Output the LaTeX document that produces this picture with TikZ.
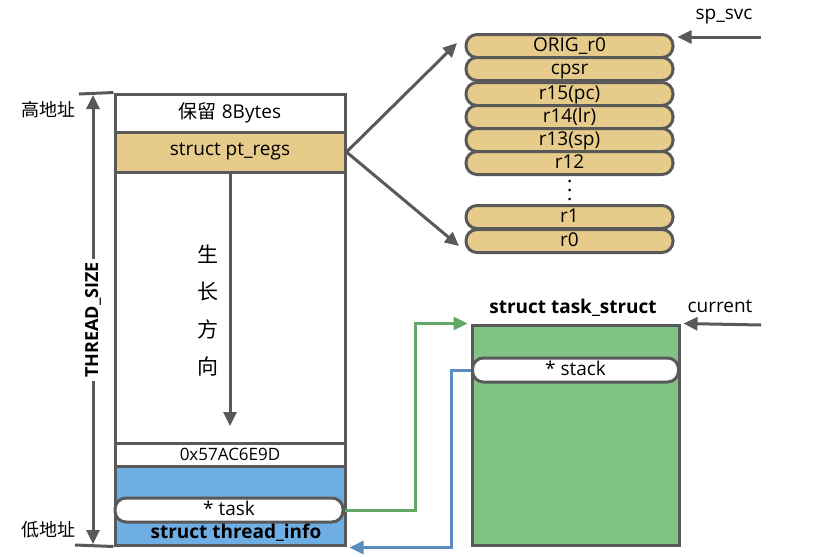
\documentclass[tikz,border=0pt]{standalone}
\usepackage{fontspec}
\setmainfont{Open Sans}
\newfontfamily\cjk{Noto Sans CJK SC}
\usepackage{tikz}
\usetikzlibrary{arrows.meta,positioning}
\definecolor{lineGray}{HTML}{595959}
\definecolor{regTan}{HTML}{E6CB8B}
\definecolor{infoBlue}{HTML}{6FAEE2}
\definecolor{taskGreen}{HTML}{81C384}
\definecolor{linkGreen}{HTML}{62A766}
\definecolor{linkBlue}{HTML}{5B8EBF}
\tikzset{
  label/.style={font=\fontsize{19}{22}\selectfont},
  cell/.style={label,draw=lineGray,line width=3pt,minimum width=230pt,inner sep=0pt},
  reg/.style={label,draw=lineGray,line width=3pt,fill=regTan,rounded corners=11pt,minimum width=207pt,minimum height=23pt,inner sep=0pt,text height=13pt,text depth=3pt},
  pill/.style={label,draw=lineGray,line width=3pt,fill=white,rounded corners=11pt,minimum height=24pt,inner sep=0pt,text height=13pt,text depth=3pt},
  cjklabel/.style={font=\fontsize{18}{22}\selectfont\cjk},
  link/.style={line width=3pt,-{Triangle[length=14pt,width=13pt]}},
}
\begin{document}
\begin{tikzpicture}[x=1pt,y=-1pt]
            \useasboundingbox (0,0) rectangle (836,557);

            % thread stack
            \node[cell,minimum height=38pt] (rsv) at (230,113) {{\cjk 保留} 8Bytes};
            \node[cell,minimum height=40pt,fill=regTan] (ptregs) at (230,152) {struct pt\_regs};
            \node[cell,minimum height=271pt] (free) at (230,307.5) {};
            \node[cell,minimum height=23pt,font=\fontsize{17}{20}\selectfont] (magic) at (230,454.5) {0x57AC6E9D};
            \node[cell,minimum height=79pt,fill=infoBlue] (tinfo) at (230,505.5) {};
            \node[pill,minimum width=228pt] (task) at (229,510) {* task};
            \node[label,font=\fontsize{19}{22}\selectfont\bfseries] (tinfoname) at (236,533) {struct thread\_info};

            \draw[lineGray,link] (free.north) -- (230,426);
            \node[cjklabel,font=\fontsize{21}{24}\selectfont\cjk] (g1) at (208,254) {生};
            \node[cjklabel,font=\fontsize{21}{24}\selectfont\cjk] (g2) at (208,292) {长};
            \node[cjklabel,font=\fontsize{21}{24}\selectfont\cjk] (g3) at (208,329) {方};
            \node[cjklabel,font=\fontsize{21}{24}\selectfont\cjk] (g4) at (208,366) {向};

            % size marker
            \coordinate (hi) at (79,94);
            \coordinate (lo) at (75,545);
            \draw[lineGray,line width=3pt] (hi) -- (rsv.north west);
            \draw[lineGray,line width=3pt] (lo) -- (tinfo.south west);
            \node[rotate=90,fill=white,inner sep=3pt,font=\fontsize{18}{22}\selectfont\bfseries] (size) at (93,320) {THREAD\_SIZE};
            \draw[lineGray,link] (size.east) -- (93,95);
            \draw[lineGray,link] (size.west) -- (93,544);
            \node[cjklabel] (high) at (48,110) {高地址};
            \node[cjklabel] (low) at (48,530) {低地址};

            % pt_regs layout
            \node[reg] (r-orig) at (569.5,46) {ORIG\_r0};
            \node[reg] (r-cpsr) at (569.5,69) {cpsr};
            \node[reg] (r-pc) at (569.5,94) {r15(pc)};
            \node[reg] (r-lr) at (569.5,117) {r14(lr)};
            \node[reg] (r-sp) at (569.5,140) {r13(sp)};
            \node[reg] (r-12) at (569.5,163) {r12};
            \coordinate (dots) at (569.5,190);
            \fill ([yshift=9pt]dots) circle (1.5pt);
            \fill (dots) circle (1.5pt);
            \fill ([yshift=-9pt]dots) circle (1.5pt);
            \node[reg] (r-1) at (569.5,217) {r1};
            \node[reg] (r-0) at (569.5,241) {r0};
            \draw[lineGray,link] (ptregs.east) -- (457,43);
            \draw[lineGray,link] (ptregs.east) -- (459,246);
            \node[label] (spsvc) at (724,17) {sp\_svc};
            \coordinate (spsvcend) at (761,37);
            \draw[lineGray,link] (spsvcend) -- ([xshift=3pt]r-orig.east |- spsvcend);

            % task_struct
            \node[cell,minimum width=207pt,minimum height=220pt,fill=taskGreen] (tsk) at (575.5,435) {};
            \node[pill,minimum width=206pt] (stack) at (575.5,370) {* stack};
            \node[label,font=\fontsize{19}{22}\selectfont\bfseries] (tskname) at (573,308) {struct task\_struct};
            \node[label] (cur) at (720,306) {current};
            \coordinate (curend) at (761,325);
            \draw[lineGray,link] (curend) -- ([xshift=3pt]tsk.north east);

            % links
            \coordinate (gx) at (415,0);
            \coordinate (bx) at (451,0);
            \draw[linkGreen,link] (task.east) -- (task.east -| gx) |- ([xshift=-3pt]tsk.north west);
            \draw[linkBlue,link] (stack.west) -- (stack.west -| bx) |- ([xshift=3pt,yshift=-1pt]tinfo.south east);
    \end{tikzpicture}
\end{document}
